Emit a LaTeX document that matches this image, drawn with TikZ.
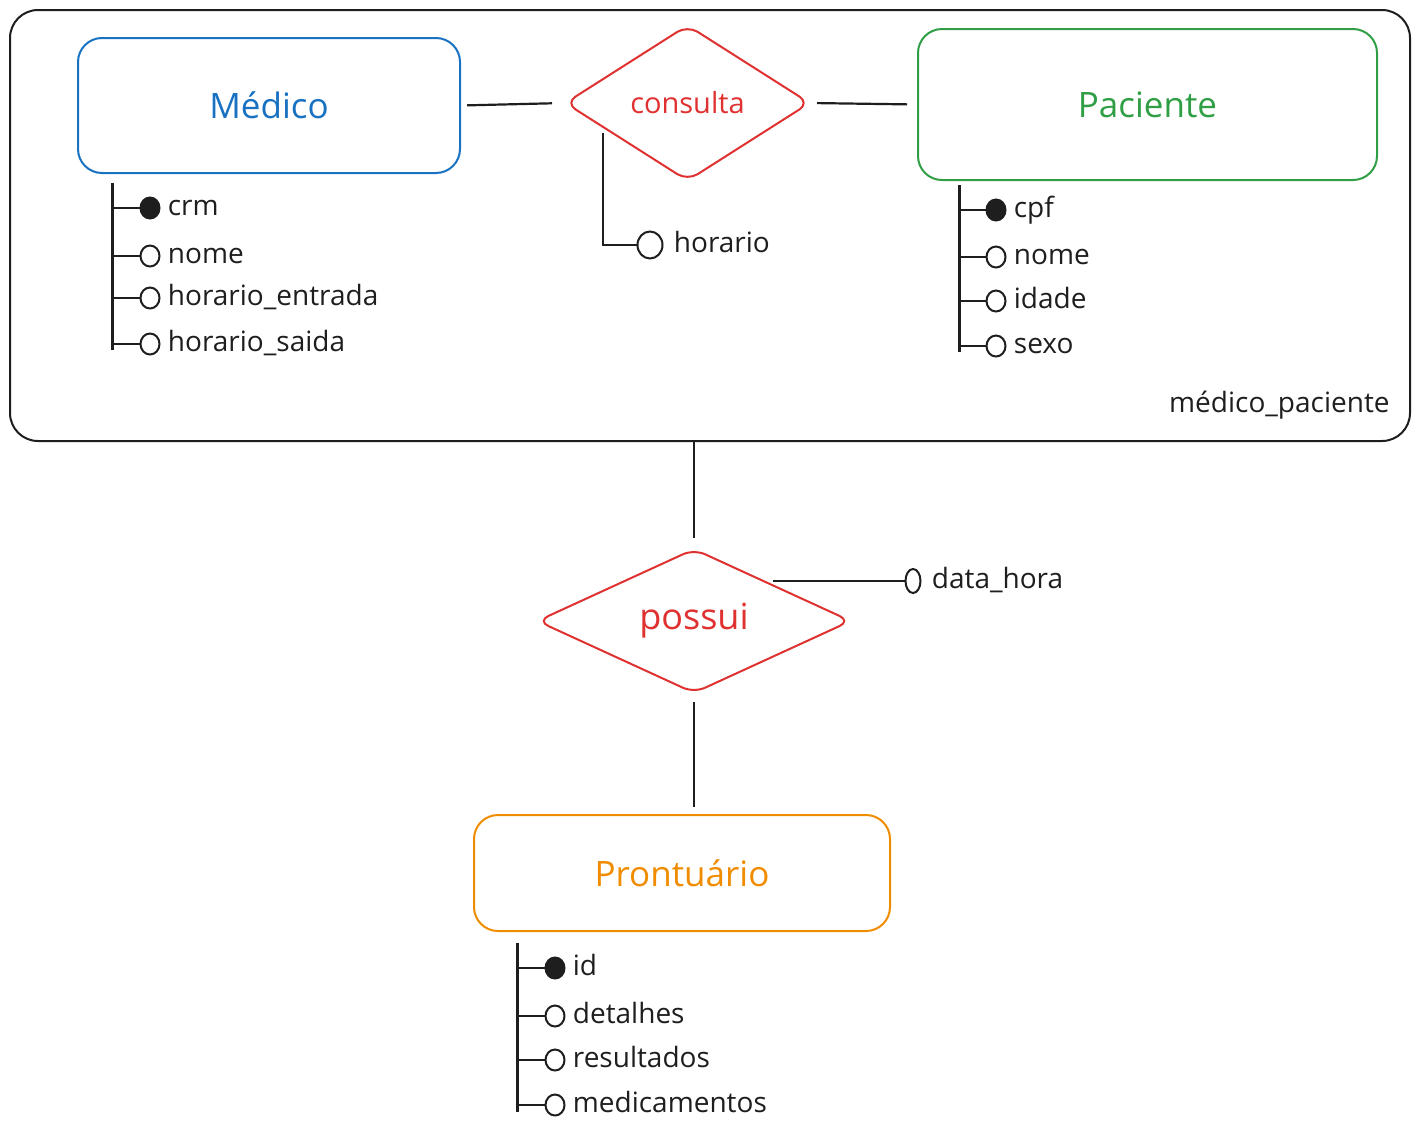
\documentclass[tikz,border=0pt]{standalone}
\usepackage{fontspec}
\setmainfont{Open Sans}
\usetikzlibrary{shapes.geometric,positioning,calc}
\definecolor{erblue}{HTML}{1971C2}
\definecolor{ergreen}{HTML}{2F9E44}
\definecolor{erred}{HTML}{E03131}
\definecolor{erorange}{HTML}{F08C00}
\definecolor{erdark}{HTML}{1E1E1E}
\tikzset{
  entity/.style={draw=#1, text=#1, line width=1pt, rounded corners=12pt, font=\fontsize{17.5}{21}\selectfont},
  relation/.style={diamond, draw=erred, text=erred, line width=1pt, rounded corners=6pt, inner sep=0pt},
  link/.style={draw=erdark, line width=1.1pt},
  spine/.style={draw=erdark, line width=1.5pt},
  attr/.style={ellipse, draw=erdark, fill=#1, line width=1pt, minimum width=9.5pt, minimum height=10.5pt, inner sep=0pt},
  attr/.default=white,
  attrtext/.style={text=erdark, font=\fontsize{14}{17}\selectfont, inner sep=0pt, anchor=west, text height=9.5pt, text depth=2.5pt},
}

\begin{document}
\begin{tikzpicture}[x=0.5pt,y=-0.5pt]
\useasboundingbox (0,0) rectangle (1420,1130);

% agregacao medico_paciente
\node[draw=erdark, line width=1pt, rounded corners=14pt, minimum width=700pt, minimum height=215.5pt] (medpac) at (710,225.5) {};
\node[attrtext, anchor=east] (medpac-label) at (1390,405) {médico\_paciente};

% entidades e relacionamentos
\node[entity=erblue, minimum width=191pt, minimum height=67.5pt] (medico) at (269,105.5) {Médico};
\node[entity=ergreen, minimum width=229.5pt, minimum height=75.5pt] (paciente) at (1147.5,104.5) {Paciente};
\node[relation, minimum width=122.5pt, minimum height=78pt, font=\fontsize{14.5}{17}\selectfont] (consulta) at (687.5,103) {consulta};
\node[relation, minimum width=157pt, minimum height=69pt, font=\fontsize{18}{21}\selectfont] (possui) at (694,621) {possui};
\node[entity=erorange, minimum width=208pt, minimum height=58pt] (prontuario) at (682,873) {Prontuário};

\draw[link, shorten <=3pt, shorten >=6pt] (medico.east) -- (consulta.west);
\draw[link, shorten <=3pt, shorten >=5pt] (consulta.east) -- (paciente.west);
\draw[link, shorten >=5pt] (medpac.south -| possui.north) -- (possui.north);
\draw[link, shorten <=4pt, shorten >=3.5pt] (possui.south) -- (possui.south |- prontuario.north);

% atributos dos relacionamentos
\coordinate (consulta-h) at (603,133);
\node[attr, minimum width=12.5pt, minimum height=13.5pt] (horario-o) at (650,245) {};
\node[attrtext, right=5pt of horario-o] (horario) {horario};
\draw[link] (consulta-h) |- (horario-o);

\node[attr, minimum width=7.5pt, minimum height=12pt] (datahora-o) at (913,581) {};
\node[attrtext, right=5pt of datahora-o] (datahora) {data\_hora};
\draw[link] (possui.north east |- datahora-o) -- (datahora-o);

% atributos de Medico
\coordinate (medico-s) at (112,183);
\draw[spine] (medico-s) -- ++(0,167);
\foreach \y/\txt/\fillc [count=\i] in {208/crm/erdark, 256/nome/white, 298/horario\_entrada/white, 344/horario\_saida/white} {
  \node[attr=\fillc] (medico-a\i) at (150,\y) {};
  \node[attrtext, right=3.5pt of medico-a\i] (medico-t\i) {\txt};
  \draw[link] (medico-s |- medico-a\i) -- (medico-a\i);
}

% atributos de Paciente
\coordinate (paciente-s) at (959,185);
\draw[spine] (paciente-s) -- ++(0,167);
\foreach \y/\txt/\fillc [count=\i] in {210/cpf/erdark, 257/nome/white, 301/idade/white, 346/sexo/white} {
  \node[attr=\fillc] (paciente-a\i) at (996,\y) {};
  \node[attrtext, right=3.5pt of paciente-a\i] (paciente-t\i) {\txt};
  \draw[link] (paciente-s |- paciente-a\i) -- (paciente-a\i);
}

% atributos de Prontuario
\coordinate (prontuario-s) at (517,943);
\draw[spine] (prontuario-s) -- ++(0,169);
\foreach \y/\txt/\fillc [count=\i] in {968/id/erdark, 1016/detalhes/white, 1060/resultados/white, 1105/medicamentos/white} {
  \node[attr=\fillc] (prontuario-a\i) at (555,\y) {};
  \node[attrtext, right=3.5pt of prontuario-a\i] (prontuario-t\i) {\txt};
  \draw[link] (prontuario-s |- prontuario-a\i) -- (prontuario-a\i);
}
\end{tikzpicture}
\end{document}
